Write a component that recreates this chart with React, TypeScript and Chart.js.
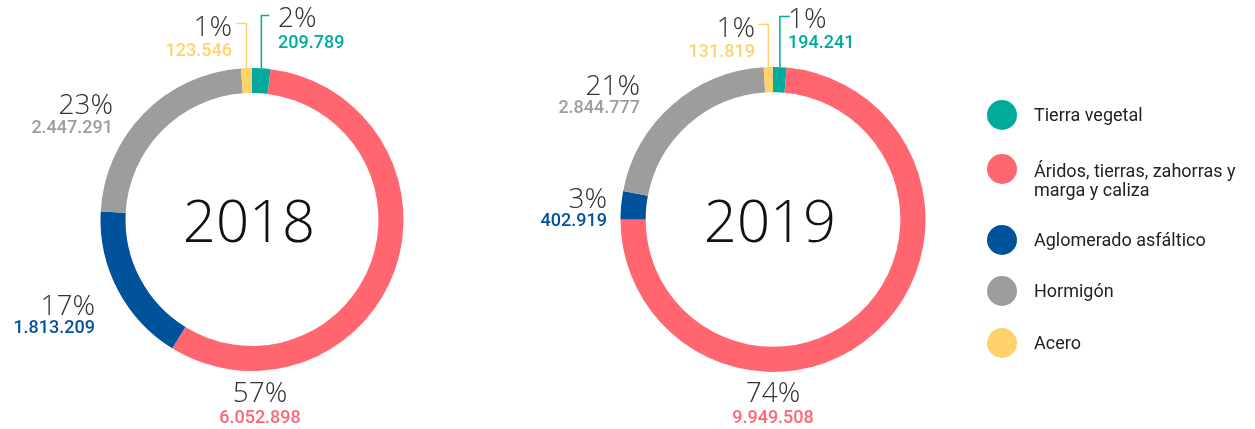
import React, { useEffect, useRef } from "react";
import { Chart, registerables } from "chart.js";

Chart.register(...registerables);

const categories = [
  "Tierra vegetal",
  "Áridos, tierras, zahorras y marga y caliza",
  "Aglomerado asfáltico",
  "Hormigón",
  "Acero",
];
const legendLines = [
  ["Tierra vegetal"],
  ["Áridos, tierras, zahorras y", "marga y caliza"],
  ["Aglomerado asfáltico"],
  ["Hormigón"],
  ["Acero"],
];
const values2018 = [209789, 6052898, 1813209, 2447291, 123546];
const values2019 = [194241, 9949508, 402919, 2844777, 131819];
const years = ["2018", "2019"];
const colors = ["#00AB9B", "#FF6670", "#00529B", "#9D9D9B", "#FFD36B"];

const LIGHT = "'Open Sans Light', 'Lato Light', 'Roboto Light', 'Open Sans', sans-serif";

// label placement (offsets from chart center): pct baseline, value baseline
type LabelPos = { x: number; pctY: number; valY: number; align: CanvasTextAlign; leaderY?: number; leaderDx?: number };
const labels2018: LabelPos[] = [
  { x: 26, pctY: -193, valY: -172, align: "left", leaderY: -204, leaderDx: 8 },
  { x: 8, pctY: 182, valY: 203, align: "center" },
  { x: -157, pctY: 95, valY: 113, align: "right" },
  { x: -139, pctY: -106, valY: -87, align: "right" },
  { x: -20, pctY: -184, valY: -164, align: "right", leaderY: -196, leaderDx: -10 },
];
const labels2019: LabelPos[] = [
  { x: 15, pctY: -192, valY: -172, align: "left", leaderY: -203, leaderDx: 10 },
  { x: 0, pctY: 182, valY: 203, align: "center" },
  { x: -166, pctY: -12, valY: 6, align: "right" },
  { x: -133, pctY: -125, valY: -107, align: "right" },
  { x: -18, pctY: -183, valY: -163, align: "right", leaderY: -195, leaderDx: -10 },
];

function fmt(n: number): string {
  return String(n).replace(/\B(?=(\d{3})+(?!\d))/g, ".");
}

function makeLabelPlugin(year: string, positions: LabelPos[]) {
  return {
    id: "doughnutLabels",
    afterDraw(chart: any) {
      const ctx = chart.ctx as CanvasRenderingContext2D;
      const meta = chart.getDatasetMeta(0);
      const data = chart.data.datasets[0].data as number[];
      const total = data.reduce((a, b) => a + b, 0);
      const arc0 = meta.data[0];
      const cx = arc0.x;
      const cy = arc0.y;
      ctx.save();
      // center year
      ctx.fillStyle = "#111";
      ctx.font = "300 58px " + LIGHT;
      ctx.textAlign = "center";
      ctx.textBaseline = "alphabetic";
      ctx.fillText(year, cx - 3, cy + 22);

      meta.data.forEach((arc: any, i: number) => {
        const p = positions[i];
        const col = colors[i];
        const pct = Math.round((data[i] / total) * 100) + "%";
        if (p.leaderY !== undefined) {
          const mid = (arc.startAngle + arc.endAngle) / 2;
          const sx = cx + Math.cos(mid) * arc.outerRadius;
          const sy = cy + Math.sin(mid) * arc.outerRadius;
          ctx.strokeStyle = col;
          ctx.lineWidth = 1.5;
          ctx.beginPath();
          ctx.moveTo(sx, sy);
          ctx.lineTo(sx, cy + p.leaderY);
          ctx.lineTo(sx + (p.leaderDx || 0), cy + p.leaderY);
          ctx.stroke();
        }
        ctx.textAlign = p.align;
        ctx.textBaseline = "alphabetic";
        ctx.fillStyle = "#333";
        ctx.font = "300 28px " + LIGHT;
        ctx.fillText(pct, cx + p.x, cy + p.pctY);
        ctx.fillStyle = col;
        ctx.font = "500 18px Roboto, sans-serif";
        ctx.fillText(fmt(data[i]), cx + p.x, cy + p.valY);
      });
      ctx.restore();
    },
  };
}

function Donut({ values, year, positions, left, width, padTop, padBottom }: { values: number[]; year: string; positions: LabelPos[]; left: number; width: number; padTop: number; padBottom: number }) {
  const ref = useRef<HTMLCanvasElement>(null);
  useEffect(() => {
    if (!ref.current) return;
    const chart = new Chart(ref.current, {
      type: "doughnut",
      data: {
        labels: categories,
        datasets: [
          {
            data: values,
            backgroundColor: colors,
            borderWidth: 0,
          },
        ],
      },
      options: {
        responsive: false,
        animation: false,
        cutout: "83.5%",
        layout: { padding: { top: padTop, bottom: padBottom, left: 0, right: 0 } },
        plugins: { legend: { display: false }, tooltip: { enabled: false } },
      },
      plugins: [makeLabelPlugin(year, positions)],
    });
    return () => chart.destroy();
  }, []);
  return (
    <canvas
      ref={ref}
      width={width}
      height={429}
      style={{ position: "absolute", left, top: 0, width, height: 429 }}
    />
  );
}

export default function App() {
  const legendTops = [115, 169, 240, 291, 343];
  return (
    <div style={{ position: "fixed", left: 0, top: 0, width: 1255, height: 429, background: "#fff", overflow: "hidden" }}>
      <Donut values={values2018} year={years[0]} positions={labels2018} left={0} width={504} padTop={68} padBottom={58} />
      <Donut values={values2019} year={years[1]} positions={labels2019} left={520} width={506} padTop={67} padBottom={57} />
      {legendLines.map((lines, i) => (
        <div key={i} style={{ position: "absolute", left: 987, top: legendTops[i] - 15, height: 30, display: "flex", alignItems: lines.length > 1 ? "flex-start" : "center" }}>
          <div style={{ width: 30, height: 30, borderRadius: 15, background: colors[i], flex: "none" }} />
          <div
            style={{
              marginLeft: 17,
              fontFamily: "Roboto, sans-serif",
              fontSize: 18,
              lineHeight: lines.length > 1 ? "19px" : "30px",
              marginTop: lines.length > 1 ? 7 : 0,
              color: "#222",
              whiteSpace: "nowrap",
            }}
          >
            {lines.map((l, j) => (
              <div key={j}>{l}</div>
            ))}
          </div>
        </div>
      ))}
    </div>
  );
}
